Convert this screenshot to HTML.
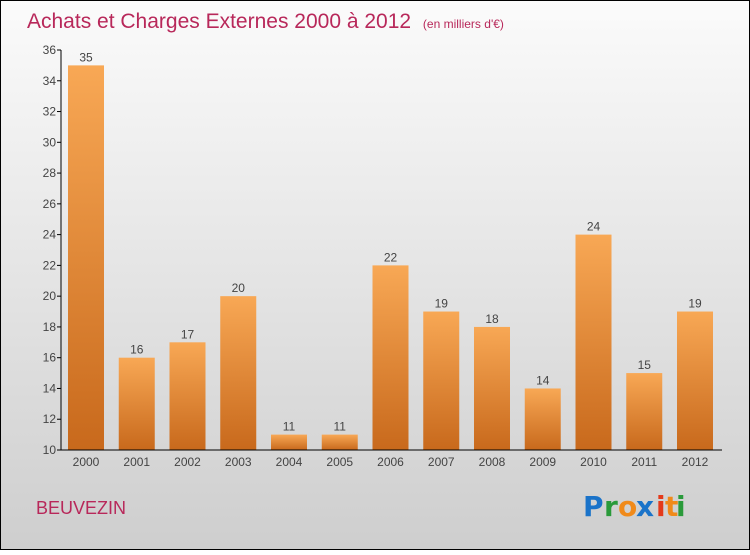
<!DOCTYPE html>
<html><head><meta charset="utf-8"><style>
html,body{margin:0;padding:0}
body{width:750px;height:550px;overflow:hidden;font-family:"Liberation Sans",sans-serif}
</style></head><body>
<svg width="750" height="550" xmlns="http://www.w3.org/2000/svg">
<defs>
<linearGradient id="bg" x1="0" y1="0" x2="0" y2="1"><stop offset="0" stop-color="#fbfbfb"/><stop offset="1" stop-color="#cecece"/></linearGradient>
<linearGradient id="bar" x1="0" y1="0" x2="0" y2="1"><stop offset="0" stop-color="#f8a855"/><stop offset="1" stop-color="#c8691c"/></linearGradient>
</defs>
<rect x="0.5" y="0.5" width="749" height="549" fill="url(#bg)" stroke="#000"/>
<text x="27" y="28" font-size="21" fill="#b8285a">Achats et Charges Externes 2000 à 2012 <tspan font-size="12" dx="6">(en milliers d'€)</tspan></text>
<g id="yaxis"></g>
<g id="bars"></g>
<g id="xaxis"></g>
<text x="36" y="514" font-size="18" fill="#b8285a">BEUVEZIN</text>
<g font-size="28" font-weight="bold" font-family="'DejaVu Sans',sans-serif">
<text x="583" y="516" fill="#1a73c9">P</text><text x="604" y="516" fill="#2a9a3a">r</text><text x="618" y="516" fill="#f08a1a">o</text><text x="636" y="516" fill="#1a73c9">x</text><text x="656" y="516" fill="#e43a1a">i</text><text x="665" y="516" fill="#f08a1a">t</text><text x="676" y="516" fill="#2a9a3a">i</text>
</g>
</svg>
<script>
const years=["2000","2001","2002","2003","2004","2005","2006","2007","2008","2009","2010","2011","2012"];
const values=[35,16,17,20,11,11,22,19,18,14,24,15,19];
const yTicks=[10,12,14,16,18,20,22,24,26,28,30,32,34,36];
(function(){
const NS="http://www.w3.org/2000/svg";
const yMin=10,yMax=36,plotTop=50,plotBot=450,x0=61,step=50.75,first=86,bw=36;
const y=v=>plotBot-(v-yMin)/(yMax-yMin)*(plotBot-plotTop);
const x=i=>first+i*step;
function mk(t,a,p){const e=document.createElementNS(NS,t);for(const k in a)e.setAttribute(k,a[k]);p.appendChild(e);return e;}
const ya=document.getElementById('yaxis'),ba=document.getElementById('bars'),xa=document.getElementById('xaxis');
mk('line',{x1:x0,y1:plotTop,x2:x0,y2:plotBot,stroke:'#000'},ya);
yTicks.forEach(t=>{
 mk('line',{x1:x0-4,y1:y(t),x2:x0,y2:y(t),stroke:'#000'},ya);
 const l=mk('text',{x:x0-5,y:y(t)+4,'font-size':12,fill:'#444','text-anchor':'end'},ya);l.textContent=t;
 
 
});
mk('line',{x1:x0,y1:plotBot,x2:722,y2:plotBot,stroke:'#000'},xa);
years.forEach((yr,i)=>{
 const r=mk('rect',{x:x(i)-bw/2,y:y(values[i]),width:bw,height:plotBot-y(values[i]),fill:'url(#bar)'},ba);
 
 
 const v=mk('text',{x:x(i),y:y(values[i])-4,'font-size':12,fill:'#444','text-anchor':'middle'},ba);v.textContent=values[i];
 
 
 const l=mk('text',{x:x(i),y:466,'font-size':12,fill:'#444','text-anchor':'middle'},xa);l.textContent=yr;
 
 
});
})();
</script>
</body></html>
